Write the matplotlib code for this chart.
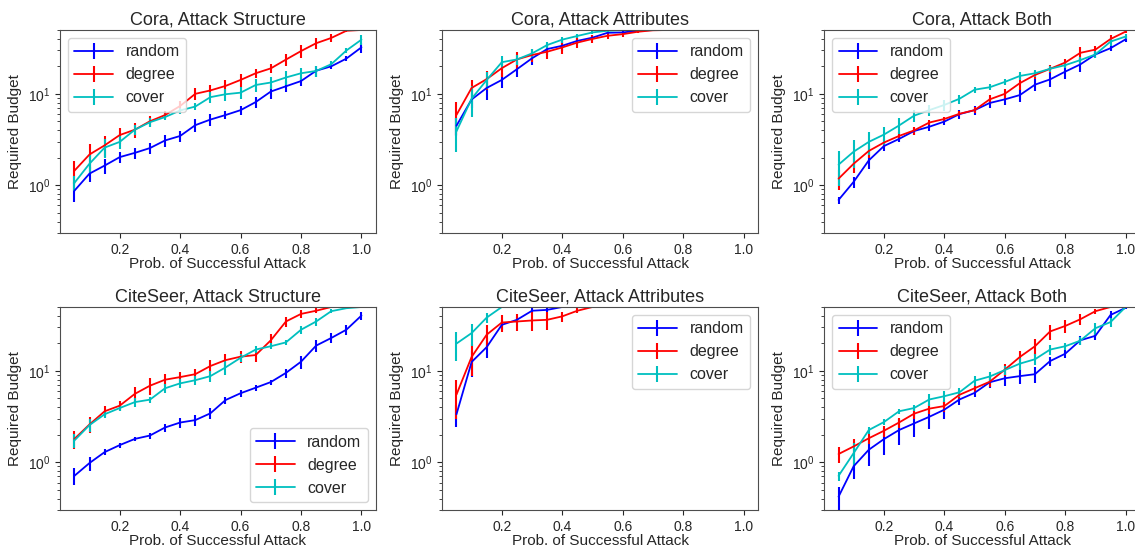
import matplotlib
matplotlib.use("Agg")
import matplotlib.pyplot as plt
import seaborn as sns

probs = [0.05, 0.1, 0.15, 0.2, 0.25, 0.3, 0.35, 0.4, 0.45, 0.5,
         0.55, 0.6, 0.65, 0.7, 0.75, 0.8, 0.85, 0.9, 0.95, 1.0]

titles = ["Cora, Attack Structure", "Cora, Attack Attributes", "Cora, Attack Both",
          "CiteSeer, Attack Structure", "CiteSeer, Attack Attributes", "CiteSeer, Attack Both"]
methods = ["random", "degree", "cover"]
legend_locs = ["upper left", "upper right", "upper left",
               "lower right", "upper right", "upper left"]

# Cora, Attack Structure
cora_struct_random = [0.87, 1.34, 1.64, 2.03, 2.26, 2.55, 3.09, 3.46, 4.54, 5.23,
                      5.86, 6.63, 8.13, 10.6, 12.1, 13.8, 17.9, 20.0, 24.3, 32.3]
cora_struct_random_err = [0.22, 0.25, 0.3, 0.3, 0.3, 0.35, 0.45, 0.5, 0.7, 0.8,
                          0.6, 0.7, 1.2, 1.8, 1.6, 1.6, 2.5, 1.5, 1.5, 4.0]
cora_struct_degree = [1.44, 2.17, 2.73, 3.54, 4.05, 5.01, 5.86, 7.37, 10.0, 10.9,
                      12.2, 14.2, 16.8, 19.0, 23.7, 29.4, 35.8, 40.9, 49.0, 50.0]
cora_struct_degree_err = [0.4, 0.65, 0.7, 0.7, 0.8, 0.7, 0.6, 1.0, 1.5, 1.5,
                          2.0, 2.4, 2.0, 2.0, 3.5, 5.0, 5.0, 4.0, 2.0, 0.0]
cora_struct_cover = [1.06, 1.72, 2.58, 2.98, 4.05, 4.89, 5.57, 6.58, 7.26, 9.2,
                     9.9, 10.3, 12.5, 13.3, 15.1, 16.8, 17.8, 21.1, 29.8, 39.2]
cora_struct_cover_err = [0.2, 0.4, 0.6, 0.5, 0.5, 0.5, 0.4, 0.5, 0.6, 1.3,
                         1.5, 1.5, 2.0, 2.0, 2.5, 2.5, 2.5, 1.5, 2.0, 5.0]

# Cora, Attack Attributes
cora_attr_random = [4.48, 8.68, 11.6, 14.2, 18.6, 24.5, 30.9, 33.6, 38.0, 41.2,
                    46.6, 47.0, 49.0, 50.0, 50.0, 50.0, 50.0, 50.0, 50.0, 50.0]
cora_attr_random_err = [1.0, 1.6, 3.0, 2.5, 3.5, 4.0, 4.0, 4.0, 3.0, 3.0,
                        2.0, 2.0, 1.0, 0.0, 0.0, 0.0, 0.0, 0.0, 0.0, 0.0]
cora_attr_degree = [5.88, 11.6, 14.5, 19.1, 23.8, 26.6, 28.9, 32.2, 36.4, 39.9,
                    43.2, 45.0, 47.8, 49.6, 50.0, 50.0, 50.0, 50.0, 50.0, 50.0]
cora_attr_degree_err = [2.3, 2.6, 3.5, 4.0, 5.0, 4.5, 5.0, 5.0, 5.0, 4.0,
                        3.0, 3.0, 2.0, 1.0, 0.0, 0.0, 0.0, 0.0, 0.0, 0.0]
cora_attr_cover = [3.89, 8.84, 14.2, 22.2, 23.8, 27.7, 34.2, 39.2, 43.0, 47.0,
                   49.0, 50.0, 50.0, 50.0, 50.0, 50.0, 50.0, 50.0, 50.0, 50.0]
cora_attr_cover_err = [1.6, 3.3, 3.0, 3.5, 3.0, 3.0, 3.0, 3.0, 2.5, 2.0,
                       1.0, 0.0, 0.0, 0.0, 0.0, 0.0, 0.0, 0.0, 0.0, 0.0]

# Cora, Attack Both
cora_both_random = [0.69, 1.09, 1.87, 2.68, 3.21, 3.92, 4.36, 4.97, 6.0, 6.63,
                    7.94, 8.7, 9.7, 12.6, 14.4, 17.5, 21.0, 27.0, 31.6, 39.5]
cora_both_random_err = [0.06, 0.15, 0.35, 0.3, 0.25, 0.35, 0.4, 0.4, 0.7, 0.8,
                        1.0, 1.2, 1.6, 1.8, 2.5, 2.8, 3.5, 2.5, 2.5, 3.0]
cora_both_degree = [1.18, 1.72, 2.37, 2.93, 3.46, 3.98, 4.85, 5.31, 6.05, 6.63,
                    8.7, 10.0, 13.1, 16.1, 18.8, 22.0, 28.1, 30.5, 39.8, 48.0]
cora_both_degree_err = [0.3, 0.35, 0.4, 0.3, 0.35, 0.4, 0.3, 0.3, 0.4, 0.5,
                        0.9, 1.2, 2.0, 1.5, 1.8, 2.2, 4.5, 3.0, 4.0, 2.0]
cora_both_cover = [1.68, 2.33, 2.98, 3.58, 4.5, 5.77, 6.63, 7.56, 8.83, 11.1,
                   11.8, 13.5, 15.7, 16.8, 18.8, 20.6, 23.4, 27.0, 37.3, 42.4]
cora_both_cover_err = [0.7, 0.8, 0.85, 0.8, 0.9, 0.9, 0.9, 1.0, 1.0, 0.9,
                       0.9, 1.1, 1.5, 1.5, 1.5, 1.6, 2.0, 2.5, 3.5, 3.0]

# CiteSeer, Attack Structure
cite_struct_random = [0.71, 0.98, 1.29, 1.54, 1.80, 1.96, 2.40, 2.72, 2.89, 3.43,
                      4.79, 5.69, 6.54, 7.54, 9.5, 12.6, 18.9, 22.9, 28.2, 40.3]
cite_struct_random_err = [0.15, 0.17, 0.1, 0.1, 0.1, 0.15, 0.25, 0.35, 0.4, 0.45,
                          0.45, 0.45, 0.45, 0.5, 1.1, 2.0, 3.0, 2.8, 3.5, 4.0]
cite_struct_degree = [1.80, 2.59, 3.61, 4.16, 5.6, 6.88, 8.0, 8.55, 9.2, 11.3,
                      13.1, 14.3, 14.9, 21.6, 34.7, 42.0, 45.5, 50.0, 50.0, 50.0]
cite_struct_degree_err = [0.4, 0.5, 0.5, 0.5, 1.0, 1.4, 1.2, 1.2, 1.2, 1.8,
                          2.2, 2.0, 2.5, 3.5, 4.5, 4.0, 3.0, 0.0, 0.0, 0.0]
cite_struct_cover = [1.73, 2.55, 3.35, 3.92, 4.55, 4.84, 6.45, 7.3, 7.9, 8.76,
                     10.9, 13.9, 17.1, 18.6, 20.5, 28.2, 34.7, 45.0, 48.5, 50.0]
cite_struct_cover_err = [0.3, 0.4, 0.3, 0.3, 0.5, 0.4, 0.7, 0.8, 0.9, 1.2,
                         1.8, 1.5, 1.4, 1.4, 1.4, 3.0, 3.5, 2.0, 1.5, 0.0]

# CiteSeer, Attack Attributes
cite_attr_random = [3.35, 12.5, 18.2, 31.9, 36.2, 45.5, 46.5, 50.0, 50.0, 50.0,
                    50.0, 50.0, 50.0, 50.0, 50.0, 50.0, 50.0, 50.0, 50.0, 50.0]
cite_attr_random_err = [0.9, 4.0, 4.5, 4.0, 3.0, 3.0, 2.5, 0.0, 0.0, 0.0,
                        0.0, 0.0, 0.0, 0.0, 0.0, 0.0, 0.0, 0.0, 0.0, 0.0]
cite_attr_degree = [5.5, 14.2, 24.9, 33.8, 34.7, 35.6, 36.2, 39.5, 45.5, 50.0,
                    50.0, 50.0, 50.0, 50.0, 50.0, 50.0, 50.0, 50.0, 50.0, 50.0]
cite_attr_degree_err = [2.5, 5.5, 7.0, 7.5, 7.5, 8.0, 8.0, 5.0, 3.0, 0.0,
                        0.0, 0.0, 0.0, 0.0, 0.0, 0.0, 0.0, 0.0, 0.0, 0.0]
cite_attr_cover = [19.9, 25.9, 38.3, 50.0, 50.0, 50.0, 50.0, 50.0, 50.0, 50.0,
                   50.0, 50.0, 50.0, 50.0, 50.0, 50.0, 50.0, 50.0, 50.0, 50.0]
cite_attr_cover_err = [7.0, 7.0, 5.0, 0.0, 0.0, 0.0, 0.0, 0.0, 0.0, 0.0,
                       0.0, 0.0, 0.0, 0.0, 0.0, 0.0, 0.0, 0.0, 0.0, 0.0]

# CiteSeer, Attack Both
cite_both_random = [0.42, 0.905, 1.37, 1.79, 2.25, 2.66, 3.14, 3.76, 4.86, 5.74,
                    7.5, 8.3, 8.76, 9.2, 12.8, 15.4, 21.6, 24.2, 40.9, 49.0]
cite_both_random_err = [0.12, 0.25, 0.45, 0.6, 0.7, 0.75, 0.8, 0.8, 0.6, 0.6,
                        1.0, 1.5, 1.6, 1.8, 1.5, 1.5, 2.5, 2.5, 4.0, 1.0]
cite_both_degree = [1.23, 1.49, 1.83, 2.21, 2.72, 3.4, 3.86, 4.12, 5.47, 6.45,
                    7.6, 10.3, 14.2, 18.6, 27.0, 31.0, 36.7, 45.0, 50.0, 50.0]
cite_both_degree_err = [0.25, 0.3, 0.25, 0.3, 0.35, 0.45, 0.5, 0.6, 0.6, 0.6,
                        1.0, 1.5, 2.5, 4.0, 5.0, 5.0, 5.0, 3.0, 0.0, 0.0]
cite_both_cover = [0.71, 1.26, 2.25, 2.75, 3.61, 3.92, 4.86, 5.28, 5.83, 7.8,
                   8.67, 10.2, 12.0, 13.4, 17.1, 18.6, 21.4, 29.3, 34.2, 50.0]
cite_both_cover_err = [0.08, 0.35, 0.2, 0.2, 0.2, 0.3, 0.7, 0.7, 0.6, 1.0,
                       1.0, 1.2, 1.8, 1.8, 2.0, 1.5, 2.0, 4.5, 4.0, 0.0]

panel_values = [
    (cora_struct_random, cora_struct_degree, cora_struct_cover),
    (cora_attr_random, cora_attr_degree, cora_attr_cover),
    (cora_both_random, cora_both_degree, cora_both_cover),
    (cite_struct_random, cite_struct_degree, cite_struct_cover),
    (cite_attr_random, cite_attr_degree, cite_attr_cover),
    (cite_both_random, cite_both_degree, cite_both_cover),
]
panel_errors = [
    (cora_struct_random_err, cora_struct_degree_err, cora_struct_cover_err),
    (cora_attr_random_err, cora_attr_degree_err, cora_attr_cover_err),
    (cora_both_random_err, cora_both_degree_err, cora_both_cover_err),
    (cite_struct_random_err, cite_struct_degree_err, cite_struct_cover_err),
    (cite_attr_random_err, cite_attr_degree_err, cite_attr_cover_err),
    (cite_both_random_err, cite_both_degree_err, cite_both_cover_err),
]

colors = ["b", "r", "c"]

sns.set_style("ticks")
plt.rcParams["font.family"] = ["Liberation Sans", "DejaVu Sans"]

fig, axes = plt.subplots(2, 3, figsize=(11.35, 5.5), dpi=100)
fig.subplots_adjust(left=0.0529, right=1.0044, top=0.9455, bottom=0.0727,
                    wspace=0.21, hspace=0.3645)

for i, ax in enumerate(axes.flat):
    for vals, errs, name, col in zip(panel_values[i], panel_errors[i], methods, colors):
        ax.errorbar(probs, vals, yerr=errs, color=col, ecolor=col, lw=1.3,
                    elinewidth=1.5, capsize=0, label=name)
    ax.set_yscale("log")
    ax.set_ylim(0.3, 50)
    ax.set_xticks([0.2, 0.4, 0.6, 0.8, 1.0])
    ax.set_title(titles[i], fontsize=13, pad=4)
    ax.set_xlabel("Prob. of Successful Attack", fontsize=11, labelpad=0)
    ax.set_ylabel("Required Budget", fontsize=11)
    ax.tick_params(labelsize=10)
    for s in ax.spines.values():
        s.set_color("0.3")
    ax.legend(loc=legend_locs[i], fontsize=11.5, frameon=True, handlelength=2.4)

plt.savefig("out.png", dpi=100)
